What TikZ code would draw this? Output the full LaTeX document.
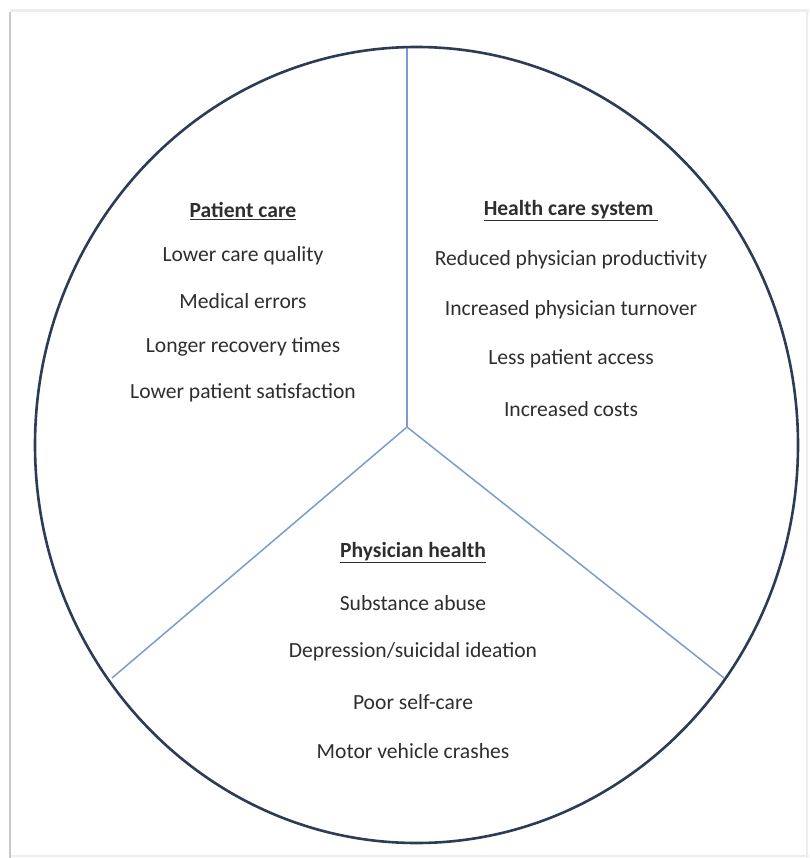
\documentclass[tikz,border=0pt]{standalone}
\usepackage{fontspec}
\setmainfont{Carlito}
\definecolor{rim}{HTML}{2E3B57}
\definecolor{spoke}{HTML}{7C9CCC}
\definecolor{txt}{HTML}{2E2E2E}
\definecolor{frameL}{HTML}{C9C9C9}
\definecolor{frameT}{HTML}{EDEDED}
\begin{document}
\begin{tikzpicture}[x=1pt,y=-1pt,
  item/.style={text=txt,font=\fontsize{21.6}{24}\selectfont,inner sep=0pt,anchor=center},
  head/.style={item,font=\fontsize{21.6}{24}\selectfont\bfseries},
  rimline/.style={draw=rim,line width=2.6pt},
  spokeline/.style={draw=spoke,line width=1.5pt}]
\useasboundingbox (0,0) rectangle (809,858);
% page frame / shadow
\draw[frameT,line width=3pt] (10,11) -- (809,11);
\draw[frameT,line width=1.5pt] (807,11) -- (807,858);
\draw[frameT,line width=1.5pt] (10,856) -- (809,856);
\draw[frameL,line width=2.2pt] (10,12) -- (10,858);
% spokes
\coordinate (c) at (407,427);
\coordinate (t) at (407,47);
\coordinate (l) at (112,678);
\coordinate (r) at (724,678);
\draw[spokeline] (t) -- (c);
\draw[spokeline] (l) -- (c) -- (r);
% rim
\draw[rimline] (416.5,445) ellipse [x radius=381.5pt, y radius=398pt];
% Patient care
\node[head] (pch) at (243,211) {\underline{Patient care}};
\node[item] (pc1) at (243,256) {Lower care quality};
\node[item] (pc2) at (243,301) {Medical errors};
\node[item] (pc3) at (243,347) {Longer recovery times};
\node[item] (pc4) at (243,393) {Lower patient satisfaction};
% Health care system
\node[head] (hsh) at (571,211) {\underline{Health care system\ }};
\node[item] (hs1) at (571,260) {Reduced physician productivity};
\node[item] (hs2) at (571,310) {Increased physician turnover};
\node[item] (hs3) at (571,359) {Less patient access};
\node[item] (hs4) at (571,409) {Increased costs};
% Physician health
\node[head] (phh) at (413,553) {\underline{Physician health}};
\node[item] (ph1) at (413,603) {Substance abuse};
\node[item] (ph2) at (413,652) {Depression/suicidal ideation};
\node[item] (ph3) at (413,702) {Poor self-care};
\node[item] (ph4) at (413,751) {Motor vehicle crashes};
\end{tikzpicture}
\end{document}
